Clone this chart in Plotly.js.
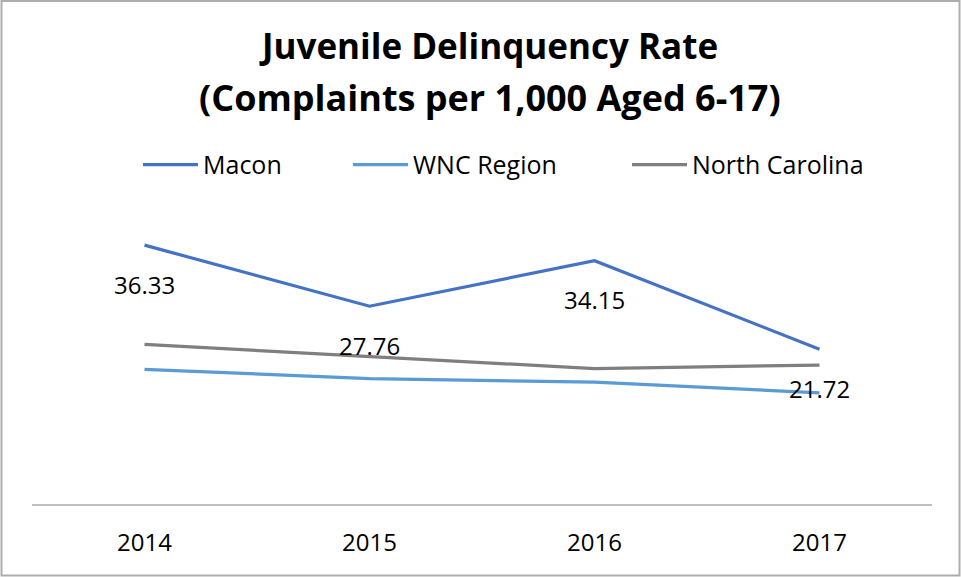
<!DOCTYPE html>
<html>
<head>
<meta charset="utf-8">
<script src="https://cdn.plot.ly/plotly-3.0.1.min.js"></script>
<style>html,body{margin:0;padding:0;background:#fff;}#chart{width:961px;height:577px;}</style>
</head>
<body>
<div id="chart"></div>
<script>
const years = ["2014", "2015", "2016", "2017"];
const macon = [36.33, 27.76, 34.15, 21.72];
const wnc = [18.9, 17.6, 17.1, 15.6];
const northCarolina = [22.4, 20.7, 19.0, 19.5];
const seriesNames = ["Macon", "WNC Region", "North Carolina"];
const titleLine1 = "Juvenile Delinquency Rate";
const titleLine2 = "(Complaints per 1,000 Aged 6-17)";

const FONT = "Open Sans, Noto Sans, sans-serif";
const colors = ["#4472C4", "#5B9BD5", "#7F7F7F"];
const allSeries = [macon, wnc, northCarolina];
const legendIds = ["legend", "legend2", "legend3"];
const legendLineStart = [148, 358, 637];

const traces = allSeries.map((vals, i) => ({
  type: "scatter",
  mode: "lines",
  x: years,
  y: vals,
  name: seriesNames[i],
  legend: legendIds[i],
  line: {color: colors[i], width: 3.2},
  hoverinfo: "skip"
}));

const annotations = years.map((yr, i) => ({
  x: i, y: macon[i], xref: "x", yref: "y",
  text: macon[i].toFixed(2),
  showarrow: false, yshift: -39,
  font: {family: FONT, size: 24, color: "#000"}
}));
annotations.push({
  x: (490 - 32) / 900, xref: "paper", xanchor: "center",
  y: (504 - 97) / 285, yref: "paper", yanchor: "middle",
  text: titleLine2, showarrow: false,
  font: {family: FONT, size: 36, color: "#000", weight: "bold"}
});

const layout = {
  width: 961, height: 577,
  margin: {l: 32, r: 29, t: 219, b: 73},
  paper_bgcolor: "#fff", plot_bgcolor: "#fff",
  font: {family: FONT, size: 24, color: "#000"},
  title: {
    text: titleLine1,
    xref: "container", x: 490 / 961, xanchor: "center",
    yref: "container", y: 1 - 47 / 577, yanchor: "middle",
    font: {family: FONT, size: 35, color: "#000", weight: "bold"}
  },
  showlegend: true,
  xaxis: {
    type: "category",
    range: [-0.5, 3.5],
    showgrid: false, zeroline: false,
    showline: true, linecolor: "#BFBFBF", linewidth: 2,
    ticks: "", ticklabelstandoff: 16,
    tickfont: {family: FONT, size: 24, color: "#000"}
  },
  yaxis: {
    range: [0, 40],
    showticklabels: false, ticks: "",
    showline: false, showgrid: false, zeroline: false
  },
  annotations: annotations,
  shapes: [{
    type: "rect", xref: "paper", yref: "paper",
    x0: (1.5 - 32) / 900, x1: (959.5 - 32) / 900,
    y0: (504 - 575.5) / 285, y1: (504 - 1) / 285,
    line: {color: "#ADADAD", width: 2}, fillcolor: "rgba(0,0,0,0)"
  }]
};

legendIds.forEach((id, i) => {
  layout[id] = {
    orientation: "h",
    x: (legendLineStart[i] - 32 - 10) / 900, xanchor: "left",
    y: 1.19, yanchor: "middle",
    font: {family: FONT, size: 25, color: "#000"},
    itemwidth: 55,
    borderwidth: 0,
    bgcolor: "rgba(0,0,0,0)"
  };
});

Plotly.newPlot("chart", traces, layout, {displayModeBar: false, staticPlot: true});
</script>
</body>
</html>
